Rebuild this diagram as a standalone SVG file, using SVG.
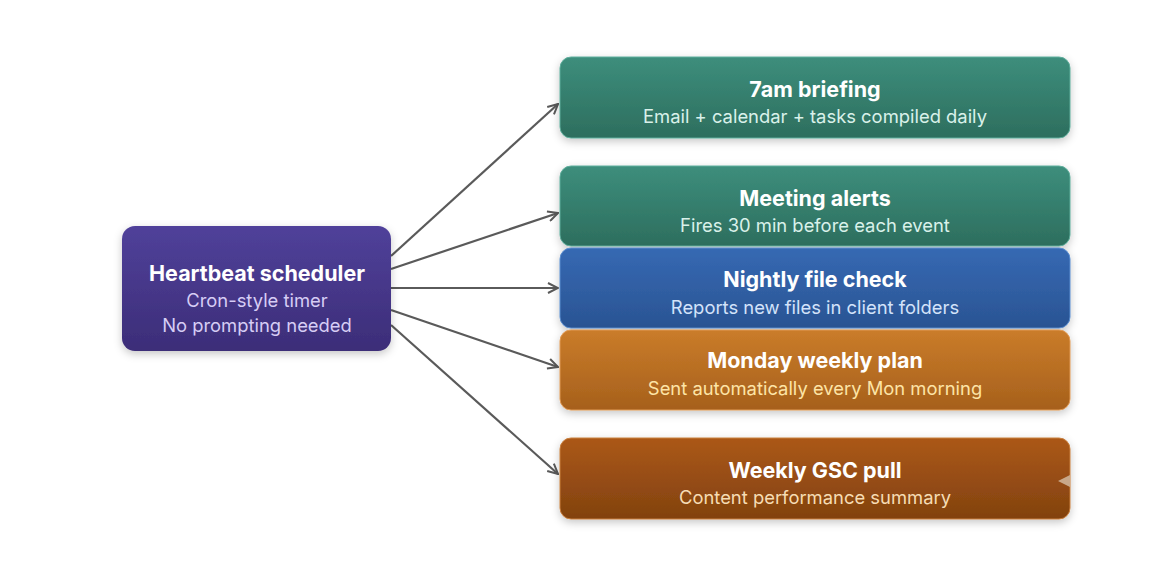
<svg xmlns="http://www.w3.org/2000/svg" width="1173" height="576" viewBox="0 0 1173 576">
<defs>
<linearGradient id="gP" x1="0" y1="0" x2="0" y2="1"><stop offset="0" stop-color="#50419a"/><stop offset="1" stop-color="#3c2d78"/></linearGradient>
<linearGradient id="gT" x1="0" y1="0" x2="0" y2="1"><stop offset="0" stop-color="#3d8e7c"/><stop offset="1" stop-color="#2d6e5e"/></linearGradient>
<linearGradient id="gB" x1="0" y1="0" x2="0" y2="1"><stop offset="0" stop-color="#3669b3"/><stop offset="1" stop-color="#2a5493"/></linearGradient>
<linearGradient id="gO" x1="0" y1="0" x2="0" y2="1"><stop offset="0" stop-color="#ca7c2a"/><stop offset="1" stop-color="#a6601c"/></linearGradient>
<linearGradient id="gR" x1="0" y1="0" x2="0" y2="1"><stop offset="0" stop-color="#ab5818"/><stop offset="1" stop-color="#82420f"/></linearGradient>
<filter id="sh" x="-10%" y="-20%" width="120%" height="150%"><feDropShadow dx="0" dy="3" stdDeviation="4" flood-color="#000" flood-opacity="0.22"/></filter>
<marker id="ar" viewBox="0 0 12 12" refX="11" refY="6" markerWidth="12" markerHeight="12" markerUnits="userSpaceOnUse" orient="auto"><path d="M1,1 L11,6 L1,11" fill="none" stroke="#595959" stroke-width="2"/></marker>
</defs>
<style>
.t{font-family:Inter,"Noto Sans",sans-serif;font-weight:700;font-size:21.5px;fill:#ffffff;text-anchor:middle}
.s{font-family:Inter,"Noto Sans",sans-serif;font-weight:400;font-size:18.4px;text-anchor:middle}
.c{fill:none;stroke:#5a5a5a;stroke-width:2.2;marker-end:url(#ar)}
</style>
<rect width="1173" height="576" fill="#ffffff"/>
<g id="connectors">
<line class="c" x1="391" y1="256" x2="558" y2="104"/>
<line class="c" x1="391" y1="269" x2="558" y2="213"/>
<line class="c" x1="391" y1="288" x2="558" y2="288"/>
<line class="c" x1="391" y1="310" x2="558" y2="367"/>
<line class="c" x1="391" y1="325" x2="558" y2="474"/>
</g>
<g id="heartbeat">
<rect x="122" y="226" width="269" height="125" rx="13" fill="url(#gP)" filter="url(#sh)"/>
<text class="t" x="257" y="281">Heartbeat scheduler</text>
<text class="s" x="257" y="307" fill="#d6cdf5">Cron-style timer</text>
<text class="s" x="257" y="332" fill="#d6cdf5">No prompting needed</text>
</g>
<g id="briefing">
<rect x="560" y="57" width="510" height="81" rx="11" fill="url(#gT)" stroke="#5fae9c" stroke-width="1" filter="url(#sh)"/>
<text class="t" x="815" y="97">7am briefing</text>
<text class="s" x="815" y="123" fill="#d9f1ea">Email + calendar + tasks compiled daily</text>
</g>
<g id="meeting">
<rect x="560" y="166" width="510" height="80" rx="11" fill="url(#gT)" stroke="#5fae9c" stroke-width="1" filter="url(#sh)"/>
<text class="t" x="815" y="206">Meeting alerts</text>
<text class="s" x="815" y="232" fill="#d9f1ea">Fires 30 min before each event</text>
</g>
<g id="nightly">
<rect x="560" y="248" width="510" height="80" rx="11" fill="url(#gB)" stroke="#5a8ed0" stroke-width="1" filter="url(#sh)"/>
<text class="t" x="815" y="287">Nightly file check</text>
<text class="s" x="815" y="314" fill="#d3e3fa">Reports new files in client folders</text>
</g>
<g id="monday">
<rect x="560" y="330" width="510" height="80" rx="11" fill="url(#gO)" stroke="#e09a55" stroke-width="1" filter="url(#sh)"/>
<text class="t" x="815" y="368">Monday weekly plan</text>
<text class="s" x="815" y="395" fill="#fde4a6">Sent automatically every Mon morning</text>
</g>
<g id="gsc">
<rect x="560" y="438" width="510" height="81" rx="11" fill="url(#gR)" stroke="#c9803e" stroke-width="1" filter="url(#sh)"/>
<text class="t" x="815" y="478">Weekly GSC pull</text>
<text class="s" x="815" y="504" fill="#f6dcb4">Content performance summary</text>
<polygon points="1058,481 1070,475 1070,487" fill="#c9a88a"/>
</g>
</svg>
